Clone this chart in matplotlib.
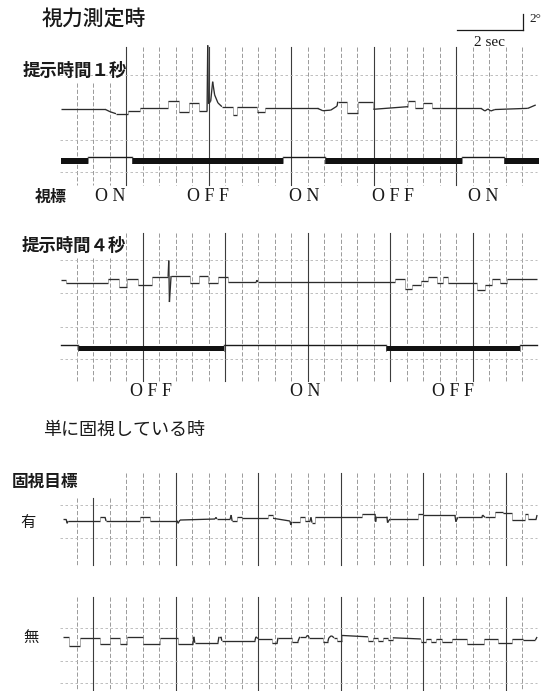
import numpy as np
import matplotlib
matplotlib.use("Agg")
import matplotlib.pyplot as plt
from matplotlib.collections import LineCollection

plt.rcParams['font.family'] = ['Noto Sans CJK JP', 'DejaVu Sans']

W, H = 550, 691
PX_PER_SEC = 33.0   # chart speed
PX_PER_DEG = 8.0    # pen gain
X0 = 60.2           # pixel column of t = 0

# eye position, (time [s], position [deg])
trace_1s = [
    (0.02, 0.00), (1.36, 0.00), (1.51, -0.30), (1.69, -0.55), (2.05, -0.55),
    (2.05, -0.18), (2.42, -0.18), (2.42, 0.12), (3.28, 0.12), (3.28, 1.04),
    (3.60, 1.04), (3.60, -0.30), (3.90, -0.30), (3.90, 0.83), (4.21, 0.83),
    (4.21, -0.21), (4.45, -0.21), (4.47, 8.00), (4.49, 0.70), (4.56, 1.00),
    (4.62, 3.45), (4.68, 1.80), (4.78, 0.80), (4.90, 0.33), (5.25, 0.33),
    (5.25, -0.71), (5.36, -0.71), (5.36, 0.33), (5.95, 0.33), (5.95, -0.30),
    (6.20, -0.30), (6.20, 0.12), (7.80, 0.12), (7.96, -0.18), (8.20, -0.10),
    (8.39, 0.40), (8.41, 0.95), (8.68, 0.95), (8.68, -0.42), (9.03, -0.42),
    (9.03, 0.91), (9.49, 0.91), (9.49, 0.00), (10.54, 0.33), (10.54, 1.04),
    (10.75, 1.04), (10.75, 0.20), (11.00, 0.20), (11.00, 0.75), (11.26, 0.75),
    (11.26, 0.12), (12.75, 0.12), (12.87, -0.21), (12.96, 0.04), (13.05, -0.21),
    (13.17, -0.03), (14.17, 0.12), (14.41, 0.54),
]

trace_4s = [
    (0.02, 0.31), (0.18, 0.31), (0.18, 0.00), (1.45, 0.00), (1.45, 0.40),
    (1.77, 0.40), (1.77, -0.62), (2.02, -0.62), (2.02, 0.40), (2.36, 0.40),
    (2.36, -0.31), (2.78, -0.31), (2.78, 0.72), (3.27, 0.72), (3.29, 2.75),
    (3.31, -2.44), (3.36, 0.81), (3.93, 0.81), (3.93, -0.12), (4.20, -0.12),
    (4.20, 0.81), (4.48, 0.81), (4.48, 0.00), (4.78, 0.00), (4.78, 0.72),
    (5.08, 0.72), (5.08, 0.06), (5.94, 0.06), (5.96, 0.30), (5.99, 0.06),
    (10.15, 0.06), (10.15, 0.38), (10.45, 0.38), (10.45, -0.81), (10.66, -0.81),
    (10.66, -0.25), (10.93, -0.25), (10.93, 0.22), (11.15, 0.22), (11.15, 0.72),
    (11.42, 0.72), (11.42, -0.12), (11.60, -0.12), (11.60, 0.72), (11.75, 0.72),
    (11.75, -0.12), (12.63, -0.12), (12.63, -0.94), (12.87, -0.94), (12.87, -0.31),
    (13.08, -0.31), (13.08, 0.50), (13.33, 0.50), (13.33, -0.12), (13.54, -0.12),
    (13.54, 0.38), (14.45, 0.38),
]

trace_target = [
    (0.08, 0.21), (0.18, 0.21), (0.21, -0.29), (0.24, 0.00), (1.21, 0.00),
    (1.21, 0.46), (1.36, 0.46), (1.39, 0.00), (2.42, 0.00), (2.42, 0.46),
    (2.72, 0.46), (2.72, 0.04), (3.55, 0.04), (3.57, -0.29), (3.63, 0.12),
    (4.69, 0.25), (4.72, 0.46), (4.75, 0.25), (5.15, 0.25), (5.18, 0.75),
    (5.21, 0.00), (5.36, 0.00), (5.36, 0.46), (5.51, 0.46), (5.51, 0.34),
    (6.30, 0.34), (6.30, 0.75), (6.45, 0.75), (6.45, 0.34), (6.96, 0.00),
    (6.99, -0.50), (7.02, -0.09), (7.26, -0.09), (7.26, 0.46), (7.42, 0.46),
    (7.42, 0.00), (7.57, 0.00), (7.60, 0.46), (7.63, -0.21), (7.72, -0.21),
    (7.72, 0.46), (9.14, 0.46), (9.14, 0.84), (9.54, 0.84), (9.56, -0.09),
    (9.58, 0.54), (9.90, 0.54), (9.92, -0.21), (9.99, 0.25), (10.84, 0.25),
    (10.84, 0.88), (10.99, 0.88), (10.99, 0.75), (11.96, 0.75), (11.99, -0.09),
    (12.05, 0.46), (12.78, 0.46), (12.80, 0.75), (12.87, 0.46), (13.17, 0.46),
    (13.17, 1.16), (13.42, 1.16), (13.42, 0.96), (13.69, 0.96), (13.69, 0.12),
    (14.08, 0.12), (14.08, 0.84), (14.18, 0.84), (14.18, 0.21), (14.42, 0.21),
    (14.45, 0.75),
]

trace_free = [
    (0.08, 0.21), (0.27, 0.21), (0.27, -0.96), (0.60, -0.96), (0.60, 0.09),
    (1.21, 0.09), (1.21, -0.71), (1.51, -0.71), (1.51, 0.09), (1.81, 0.09),
    (1.81, -0.71), (2.02, -0.71), (2.02, 0.21), (2.51, 0.21), (2.51, -0.71),
    (3.03, -0.71), (3.03, 0.09), (3.57, 0.09), (3.57, -0.71), (4.02, -0.71),
    (4.05, 0.21), (4.08, -0.54), (4.78, -0.54), (4.81, 0.21), (4.87, 0.21),
    (4.90, -0.29), (5.90, -0.29), (5.93, 0.21), (5.99, 0.00), (6.42, 0.00),
    (6.42, -0.62), (6.57, -0.62), (6.60, 0.09), (7.02, 0.09), (7.02, -0.41),
    (7.20, -0.41), (7.26, 0.21), (7.45, 0.21), (7.50, 0.40), (7.55, 0.09),
    (7.96, 0.09), (7.96, -0.41), (8.11, -0.41), (8.14, 0.09), (8.22, 0.35),
    (8.30, 0.09), (8.39, 0.09), (8.39, -0.25), (8.54, -0.25), (8.54, 0.38),
    (9.33, 0.21), (9.33, -0.25), (9.48, -0.25), (9.48, 0.12), (9.63, 0.12),
    (9.63, -0.25), (9.78, -0.25), (9.78, 0.12), (9.93, 0.12), (9.93, -0.19),
    (10.08, -0.19), (10.08, 0.09), (10.93, -0.06), (10.93, -0.38), (11.08, -0.38),
    (11.08, 0.00), (11.23, 0.00), (11.23, -0.38), (11.38, -0.38), (11.38, 0.00),
    (11.57, 0.00), (11.57, -0.38), (11.87, -0.38), (11.87, 0.00), (12.33, 0.00),
    (12.33, -0.71), (12.84, -0.71), (12.84, -0.06), (13.27, -0.06), (13.27, -0.62),
    (13.69, -0.62), (13.69, 0.00), (14.02, 0.00), (14.02, -0.19), (14.40, -0.19),
    (14.45, 0.19),
]

# stimulus marker: switching times and state of each interval
stim_1s_edges = [0.02, 0.85, 2.19, 6.74, 8.02, 12.18, 13.46, 14.50]
stim_1s_state = ['OFF', 'ON', 'OFF', 'ON', 'OFF', 'ON', 'OFF']
stim_4s_edges = [0.02, 0.55, 4.97, 9.87, 13.93, 14.45]
stim_4s_state = ['ON', 'OFF', 'ON', 'OFF', 'ON']
state_text = {'ON': 'O N', 'OFF': 'O F F'}

SCALE_SEC, SCALE_DEG = 2, 2
grid_t = np.arange(0.5, 14.01, 0.5)

fig = plt.figure(figsize=(W / 100, H / 100), dpi=100)
fig.patch.set_facecolor('white')


def add_panel(top, bottom, base):
    ax = fig.add_axes([0, 1 - bottom / H, 1, (bottom - top) / H])
    ax.set_xlim(-X0 / PX_PER_SEC, (W - X0) / PX_PER_SEC)
    ax.set_ylim((base - bottom) / PX_PER_DEG, (base - top) / PX_PER_DEG)
    ax.axis('off')
    ax.deg = lambda y_px: (base - y_px) / PX_PER_DEG
    return ax


def draw_grid(ax, top, bottom, label_cut, dark_k, rows):
    for k, t in enumerate(grid_t):
        x_px = X0 + t * PX_PER_SEC
        y0 = label_cut if (label_cut and x_px < 122) else top
        if (k - dark_k) % 5 == 0:
            ax.plot([t, t], [ax.deg(y0), ax.deg(bottom)], color='#3c3c3c', lw=0.8)
        else:
            ax.plot([t, t], [ax.deg(y0), ax.deg(bottom)], color='#8a8a8a',
                    lw=0.6, ls=(0, (5, 2.5)))
    ax.hlines([ax.deg(y) for y in rows], 0.0, 14.45, colors='#b4b4b4',
              lw=0.6, linestyles=(0, (3, 3)))


def draw_trace(ax, pts):
    pts = np.array(pts)
    segs = np.stack([pts[:-1], pts[1:]], axis=1)
    jump = np.isclose(segs[:, 0, 0], segs[:, 1, 0])
    colors = np.where(jump, '#8c8c8c', '#2c2c2c')
    widths = np.where(jump, 0.5, 0.95)
    ax.add_collection(LineCollection(segs, colors=colors, linewidths=widths,
                                     capstyle='butt', zorder=3))


def draw_stim(ax, edges, states, on_px, off_px, label_px):
    on_y, off_top, off_bot = ax.deg(on_px), ax.deg(off_px[0]), ax.deg(off_px[1])
    for i, st in enumerate(states):
        a, b = edges[i], edges[i + 1]
        if st == 'ON':
            ax.plot([a, b], [on_y, on_y], color='#1a1a1a', lw=1.0, zorder=3)
        else:
            ax.fill_between([a, b], off_bot, off_top, color='#111111', lw=0, zorder=3)
        if i > 0:
            ax.plot([a, a], [on_y, off_bot], color='#555555', lw=0.5, zorder=3)
        if 0 < i < len(states) - 1:
            ax.text((a + b) / 2, ax.deg(label_px), state_text[st], ha='center',
                    va='center', fontsize=13, family='Liberation Serif',
                    color='#1a1a1a')


def label(x, y, s, size, weight='normal', **kw):
    fig.text(x / W, 1 - y / H, s, fontsize=size, fontweight=weight,
             ha='center', va='center', color='#1a1a1a', **kw)


# visual acuity test, 1 s presentation
ax1 = add_panel(5, 215, 109.3)
draw_grid(ax1, 47, 185, 83, 3, [75, 140, 172])
draw_trace(ax1, trace_1s)
draw_stim(ax1, stim_1s_edges, stim_1s_state, 157.0, (158.0, 163.5), 197)

# scale bar, anchored at the upper right
bar_end, bar_y = 14.03, ax1.deg(30)
ax1.plot([bar_end - SCALE_SEC, bar_end], [bar_y, bar_y], color='#1a1a1a', lw=0.9)
ax1.plot([bar_end, bar_end], [bar_y, bar_y + SCALE_DEG], color='#1a1a1a', lw=0.9)
label(490, 43, '2 sec', 11, family='Liberation Serif')
label(535, 19, '2°', 9.5, family='Liberation Serif')

label(94, 19, '視力測定時', 15, 'medium')
label(75, 71, '提示時間１秒', 12.5, 'bold')
label(51, 197, '視標', 11.5, 'bold')

# 4 s presentation
ax2 = add_panel(225, 405, 282.5)
draw_grid(ax2, 233, 381, 258, 4, [260, 293, 327, 359])
draw_trace(ax2, trace_4s)
draw_stim(ax2, stim_4s_edges, stim_4s_state, 344.5, (345.5, 351.0), 392)
label(74, 246, '提示時間４秒', 12.5, 'bold')

# plain fixation, with and without a target
label(124, 430, '単に固視している時', 13)
label(45, 482, '固視目標', 12, 'bold')

ax3 = add_panel(465, 575, 521)
draw_grid(ax3, 473, 565, 498, 1, [505, 538])
draw_trace(ax3, trace_target)
label(28, 523, '有', 11)

ax4 = add_panel(590, 691, 638.5)
draw_grid(ax4, 597, 691, None, 1, [628, 661, 683])
draw_trace(ax4, trace_free)
label(31, 637, '無', 11)

fig.savefig('out.png', dpi=100, facecolor='white')
